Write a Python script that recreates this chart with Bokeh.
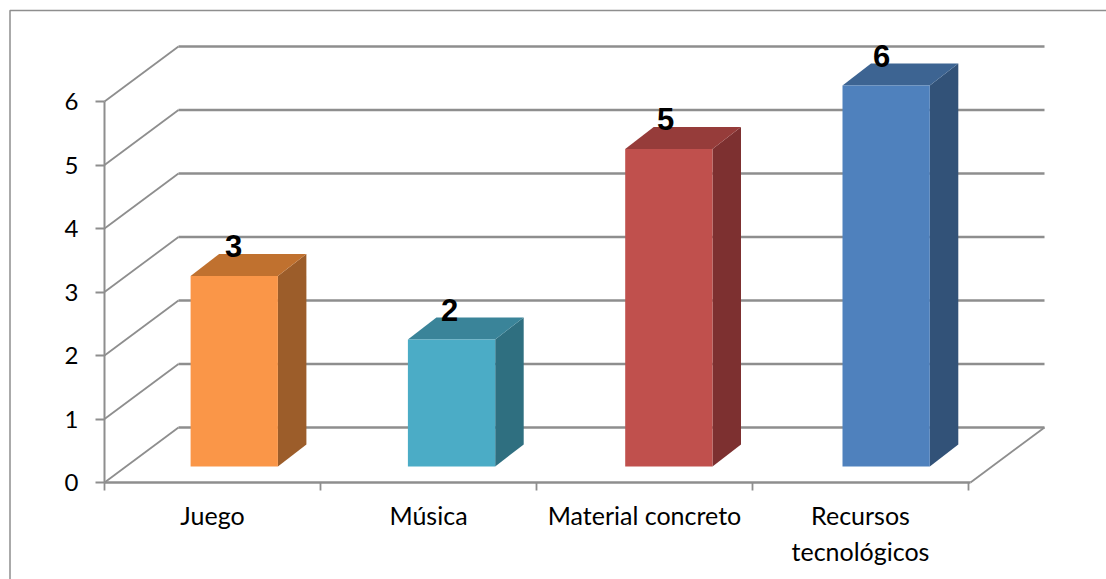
from bokeh.plotting import figure
from bokeh.models import LinearAxis, FixedTicker, Range1d
from bokeh.core.properties import value
from bokeh.embed import file_html
from bokeh.resources import INLINE
import numpy as np

# Chart data
categories = ["Juego", "Música", "Material concreto", "Recursos\ntecnológicos"]
counts = [3, 2, 5, 6]
value_ticks = [0, 1, 2, 3, 4, 5, 6]
front_colors = ["#FA9648", "#4BACC6", "#C0504D", "#4F81BD"]
side_colors = ["#9C5D2A", "#2F6F80", "#7D3030", "#325278"]
top_colors = ["#C0712F", "#3A8499", "#963C3A", "#3D6492"]

W, H = 1106, 579
# Oblique projection: pixels per unit on each scale
PX_X, PX_Y = 216.0, 63.5
ORIGIN_X, ORIGIN_Y = 104, 482

x_range = Range1d(-ORIGIN_X / PX_X, (W - ORIGIN_X) / PX_X)
y_range = Range1d(-(H - ORIGIN_Y) / PX_Y, ORIGIN_Y / PX_Y)

p = figure(width=W, height=H, x_range=x_range, y_range=y_range,
           output_backend="svg", toolbar_location=None,
           min_border=0, x_axis_type=None, y_axis_type=None)
p.outline_line_color = None
p.grid.visible = False

GRAY = "#8E8E8E"
n_cat = len(categories)

# Depth of the floor, and of a bar together with its distance from the front edge
floor_dx, floor_dy = 74 / PX_X, 55 / PX_Y
floor_end = n_cat + 2 / PX_X
gap_dx, gap_dy = 21.1 / PX_X, 16 / PX_Y
bar_dx, bar_dy = 28.5 / PX_X, 22 / PX_Y
bar_w = 87.3 / PX_X
bar_pitch = 217.3 / PX_X

# Chart area border, open towards the right and the bottom
border_x = (9.5 - ORIGIN_X) / PX_X
border_y = (ORIGIN_Y - 10) / PX_Y
p.line([border_x, border_x, x_range.end + 1], [y_range.start - 1, border_y, border_y],
       line_color=GRAY, line_width=1.5)

# Back wall and side wall gridlines, plus the right edge of the floor
ticks = np.array(value_ticks, dtype=float)
p.segment(floor_dx, ticks + floor_dy, floor_end + floor_dx, ticks + floor_dy,
          line_color=GRAY, line_width=2.4)
p.segment(0, ticks, floor_dx, ticks + floor_dy, line_color=GRAY, line_width=1.8)
p.segment(floor_end, 0, floor_end + floor_dx, floor_dy, line_color=GRAY, line_width=1.8)

# Extruded bars
centers = (np.arange(n_cat) + 0.5) * bar_pitch + gap_dx
counts_arr = np.array(counts, dtype=float)
left, right = centers - bar_w / 2, centers + bar_w / 2
bottom, top = np.full(n_cat, gap_dy), counts_arr + gap_dy

p.patches([[r, r + bar_dx, r + bar_dx, r] for r in right],
          [[b, b + bar_dy, t + bar_dy, t] for b, t in zip(bottom, top)],
          fill_color=side_colors, line_color=None)
p.patches([[l, l + bar_dx, r + bar_dx, r] for l, r in zip(left, right)],
          [[t, t + bar_dy, t + bar_dy, t] for t in top],
          fill_color=top_colors, line_color=None)
p.quad(left=left, right=right, bottom=bottom, top=top,
       fill_color=front_colors, line_color=None)

# Value labels over each bar
p.text(x=np.arange(n_cat) + 0.5 + 21 / PX_X, y=top, text=[str(c) for c in counts],
       text_font=value("Liberation Sans"), text_font_style="bold",
       text_font_size="31px", text_color="#000000",
       text_align="center", text_baseline="middle",
       y_offset=-30)

# Value axis
y_axis = LinearAxis(fixed_location=0, bounds=(0, 6),
                    ticker=FixedTicker(ticks=value_ticks))
y_axis.axis_line_color = GRAY
y_axis.axis_line_width = 2
y_axis.major_tick_line_color = GRAY
y_axis.major_tick_line_width = 1.8
y_axis.major_tick_in = 0
y_axis.major_tick_out = 9
y_axis.minor_tick_line_color = None
y_axis.major_label_standoff = 17
y_axis.major_label_text_font = "Lato"
y_axis.major_label_text_font_size = "24px"
y_axis.major_label_text_color = "#000000"
p.add_layout(y_axis, "left")

# Category axis: tick marks on the boundaries
x_ticks_axis = LinearAxis(fixed_location=0, bounds=(0, floor_end),
                          ticker=FixedTicker(ticks=list(range(n_cat + 1))))
x_ticks_axis.axis_line_color = GRAY
x_ticks_axis.axis_line_width = 2.4
x_ticks_axis.major_tick_line_color = GRAY
x_ticks_axis.major_tick_line_width = 1.8
x_ticks_axis.major_tick_in = 0
x_ticks_axis.major_tick_out = 8
x_ticks_axis.minor_tick_line_color = None
x_ticks_axis.major_label_text_font_size = "0px"
x_ticks_axis.major_label_text_color = None
p.add_layout(x_ticks_axis, "below")

# Category axis: names centred between the tick marks
label_pos = [i + 0.5 for i in range(n_cat)]
x_label_axis = LinearAxis(fixed_location=0, bounds=(0, n_cat),
                          ticker=FixedTicker(ticks=label_pos),
                          major_label_overrides=dict(zip(label_pos, categories)))
x_label_axis.axis_line_color = None
x_label_axis.major_tick_line_color = None
x_label_axis.minor_tick_line_color = None
x_label_axis.major_tick_in = 0
x_label_axis.major_tick_out = 0
x_label_axis.major_label_standoff = 17
x_label_axis.major_label_text_font = "Lato"
x_label_axis.major_label_text_font_size = "25px"
x_label_axis.major_label_text_color = "#000000"
p.add_layout(x_label_axis, "below")

open("out.html", "w").write(file_html(p, INLINE))
